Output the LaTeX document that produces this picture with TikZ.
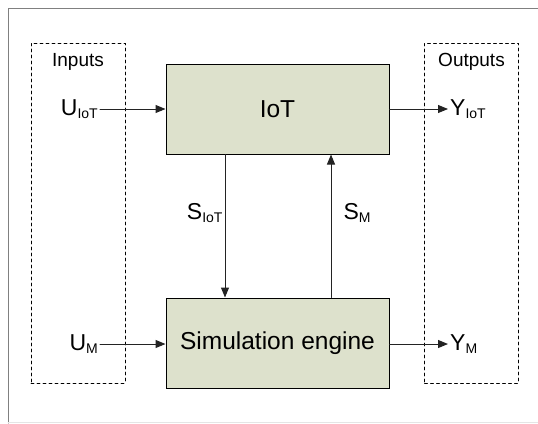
\documentclass[tikz,border=0pt]{standalone}
\usepackage{fontspec}
\setmainfont{Liberation Sans}
\usetikzlibrary{arrows.meta,positioning}
\definecolor{boxfill}{RGB}{221,225,204}
\definecolor{linegray}{RGB}{35,35,35}
\newcommand{\sig}[2]{#1\raisebox{-3.5pt}{\fontsize{14}{14}\selectfont #2}}
\tikzset{
 block/.style={draw=black,fill=boxfill,line width=1pt,minimum width=223pt,minimum height=90pt,inner sep=0pt,font=\fontsize{24.5}{28}\selectfont},
 group/.style={draw=black,dashed,line width=0.8pt,minimum width=94pt,minimum height=340pt,inner sep=0pt},
 sigtext/.style={inner sep=2pt,text=black,font=\fontsize{23}{26}\selectfont},
 grptext/.style={inner sep=0pt,font=\fontsize{19}{22}\selectfont},
 flow/.style={->,draw=linegray,line width=1pt}
}
\begin{document}
\begin{tikzpicture}[x=1pt,y=-1pt,line cap=round,>={Triangle[length=10pt,width=8pt]}]
 \useasboundingbox (0,0) rectangle (538,423);
 % frame
 \draw[gray,line width=1pt] (538,8)--(8,8)--(8,423);
 \draw[black!10,line width=0.8pt] (8,422)--(538,422);
 % boxes
 \node[group] (inbox) at (78,213) {};
 \node[group] (outbox) at (471.5,213) {};
 \node[grptext] (intext) at (78,62) {Inputs};
 \node[grptext] (outtext) at (471.5,62) {Outputs};
 \node[block] (iot) at (277.5,109) {IoT};
 \node[block] (sim) at (277.5,343) {Simulation engine};
 % signals
 \node[sigtext,anchor=east] (uiot) at (100,109) {\sig{U}{IoT}};
 \node[sigtext,anchor=east] (um) at (100,344) {\sig{U}{M}};
 \node[sigtext,anchor=west] (yiot) at (448,109) {\sig{Y}{IoT}};
 \node[sigtext,anchor=west] (ym) at (448,344) {\sig{Y}{M}};
 \draw[flow] (uiot.east) -- (uiot.east -| iot.west);
 \draw[flow] (um.east) -- (um.east -| sim.west);
 \draw[flow] (iot.east |- yiot.west) -- (yiot.west);
 \draw[flow] (sim.east |- ym.west) -- (ym.west);
 \draw[flow] ([xshift=-52.5pt]iot.south) -- ([xshift=-52.5pt]sim.north)
  node[sigtext,pos=0.41,left] (siot) {\sig{S}{IoT}};
 \draw[flow] ([xshift=53.5pt]sim.north) -- ([xshift=53.5pt]iot.south)
  node[sigtext,pos=0.59,right,xshift=10pt] (sm) {\sig{S}{M}};
\end{tikzpicture}
\end{document}
